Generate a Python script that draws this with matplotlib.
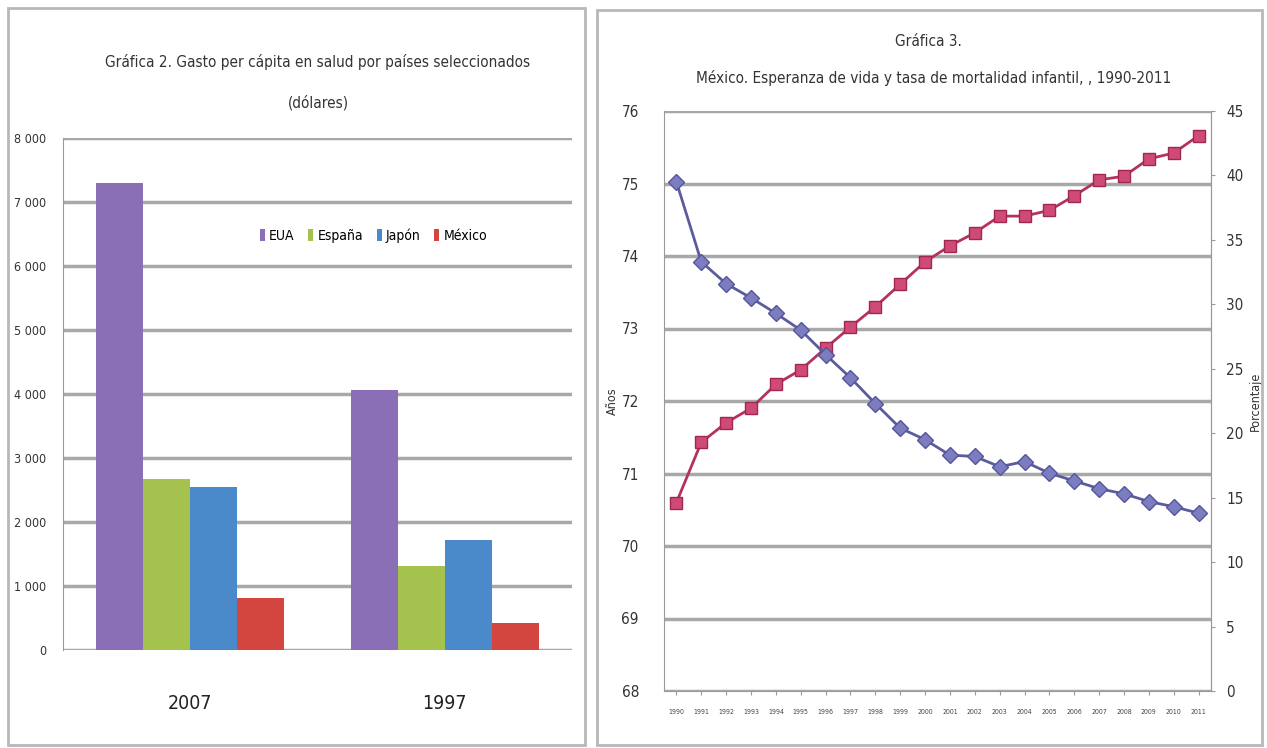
import matplotlib
matplotlib.use('Agg')
import matplotlib.pyplot as plt
from matplotlib.patches import Rectangle
import numpy as np

plt.rcParams['font.family'] = ['DejaVu Sans']
plt.rcParams['font.stretch'] = 'condensed'

# Grafica 2: gasto per capita en salud (dolares)
years_bar = ['2007', '1997']
paises = ['EUA', 'España', 'Japón', 'México']
gasto = {
    'EUA': [7290, 4060],
    'España': [2670, 1310],
    'Japón': [2550, 1720],
    'México': [810, 420],
}
bar_colors = ['#8a6fb6', '#a5c24f', '#4a8acb', '#d2463f']
gasto_ticks = [0, 1000, 2000, 3000, 4000, 5000, 6000, 7000, 8000]
gasto_labels = ['0', '1 000', '2 000', '3 000', '4 000', '5 000', '6 000', '7 000', '8 000']

# Grafica 3: Mexico, esperanza de vida y mortalidad infantil
anios = [str(y) for y in range(1990, 2012)]
esperanza = [70.6, 71.43, 71.7, 71.9, 72.23, 72.43, 72.73, 73.02, 73.3, 73.61, 73.92,
             74.14, 74.32, 74.55, 74.55, 74.63, 74.83, 75.05, 75.1, 75.34, 75.42, 75.66]
mortalidad = [39.5, 33.3, 31.6, 30.5, 29.3, 28.0, 26.1, 24.3, 22.3, 20.4, 19.5,
              18.3, 18.2, 17.4, 17.8, 16.9, 16.3, 15.7, 15.3, 14.7, 14.3, 13.8]

fig = plt.figure(figsize=(12.67, 7.48), dpi=100)
W, H = 1267, 748

def px(x0, y0, x1, y1):
    return [x0 / W, 1 - y1 / H, (x1 - x0) / W, (y1 - y0) / H]

# panel frames
for (x0, y0, x1, y1) in [(8, 8, 585, 745), (597, 10, 1262, 745)]:
    fig.patches.append(Rectangle((x0 / W, 1 - y1 / H), (x1 - x0) / W, (y1 - y0) / H,
                                 transform=fig.transFigure, fill=False,
                                 edgecolor='#b8b8b8', linewidth=2))

grid_c = '#a8a8a8'

# ---- left chart ----
ax = fig.add_axes(px(63, 138, 572, 650))
x = np.arange(len(years_bar))
bw = 0.185
for i, (p, c) in enumerate(zip(paises, bar_colors)):
    ax.bar(x + (i - 1.5) * bw, gasto[p], bw, color=c, label=p, zorder=3)
ax.set_xlim(-0.5, 1.5)
ax.set_ylim(0, 8000)
ax.set_yticks(gasto_ticks)
ax.set_yticklabels(gasto_labels, fontsize=9, color='#333333')
ax.set_xticks(x)
ax.set_xticklabels(years_bar, fontsize=14, color='#222222')
ax.tick_params(axis='x', length=0, pad=32)
ax.tick_params(axis='y', length=0, pad=12)
ax.yaxis.grid(True, color=grid_c, linewidth=2.5, zorder=0)
for s in ['top', 'right', 'bottom']:
    ax.spines[s].set_visible(False)
ax.spines['left'].set_color('#999999')
ax.set_axisbelow(True)
ax.legend(loc='center', bbox_to_anchor=(0.61, 0.81), ncol=4, frameon=False,
          fontsize=10, handlelength=0.35, handleheight=0.9, handletextpad=0.3,
          columnspacing=1.0)
fig.text(318 / W, 1 - 62 / H, 'Gráfica 2. Gasto per cápita en salud por países seleccionados',
         ha='center', va='center', fontsize=11, color='#333333')
fig.text(318 / W, 1 - 103 / H, '(dólares)', ha='center', va='center', fontsize=11, color='#333333')

# ---- right chart ----
ax1 = fig.add_axes(px(664, 111, 1211, 691))
xi = np.arange(len(anios))
ax1.plot(xi, esperanza, color='#b5325e', linewidth=2, marker='s', markersize=9,
         markerfacecolor='#cf4a78', markeredgecolor='#a02850', zorder=4)
ax1.set_xlim(-0.5, len(anios) - 0.5)
ax1.set_ylim(68, 76)
ax1.set_yticks(range(68, 77))
ax1.tick_params(axis='y', labelsize=11, length=0, pad=18, labelcolor='#333333')
ax1.set_xticks(xi)
ax1.set_xticklabels(anios, fontsize=5, color='#444444')
ax1.tick_params(axis='x', length=3, pad=10, color='#999999')
ax1.yaxis.grid(True, color=grid_c, linewidth=2.5)
ax1.set_axisbelow(True)
ax1.spines['top'].set_visible(False)
for s in ['left', 'right', 'bottom']:
    ax1.spines[s].set_color('#999999')
ax1.set_ylabel('Años', fontsize=9, color='#333333', labelpad=2)

ax2 = ax1.twinx()
ax2.plot(xi, mortalidad, color='#5b5b9e', linewidth=2, marker='D', markersize=8,
         markerfacecolor='#7c7cc0', markeredgecolor='#55559a', zorder=4)
ax2.set_ylim(0, 45)
ax2.set_yticks(range(0, 46, 5))
ax2.tick_params(axis='y', labelsize=11, length=3, pad=8, labelcolor='#333333', color='#999999')
for s in ['top', 'left', 'bottom']:
    ax2.spines[s].set_visible(False)
ax2.spines['right'].set_color('#999999')
ax2.set_ylabel('Porcentaje', fontsize=9, color='#333333', labelpad=4)

fig.text(928 / W, 1 - 42 / H, 'Gráfica 3.', ha='center', va='center', fontsize=11, color='#333333')
fig.text(934 / W, 1 - 78 / H, 'México. Esperanza de vida y tasa de mortalidad infantil, , 1990-2011',
         ha='center', va='center', fontsize=11, color='#333333')

fig.savefig('out.png', dpi=100)
